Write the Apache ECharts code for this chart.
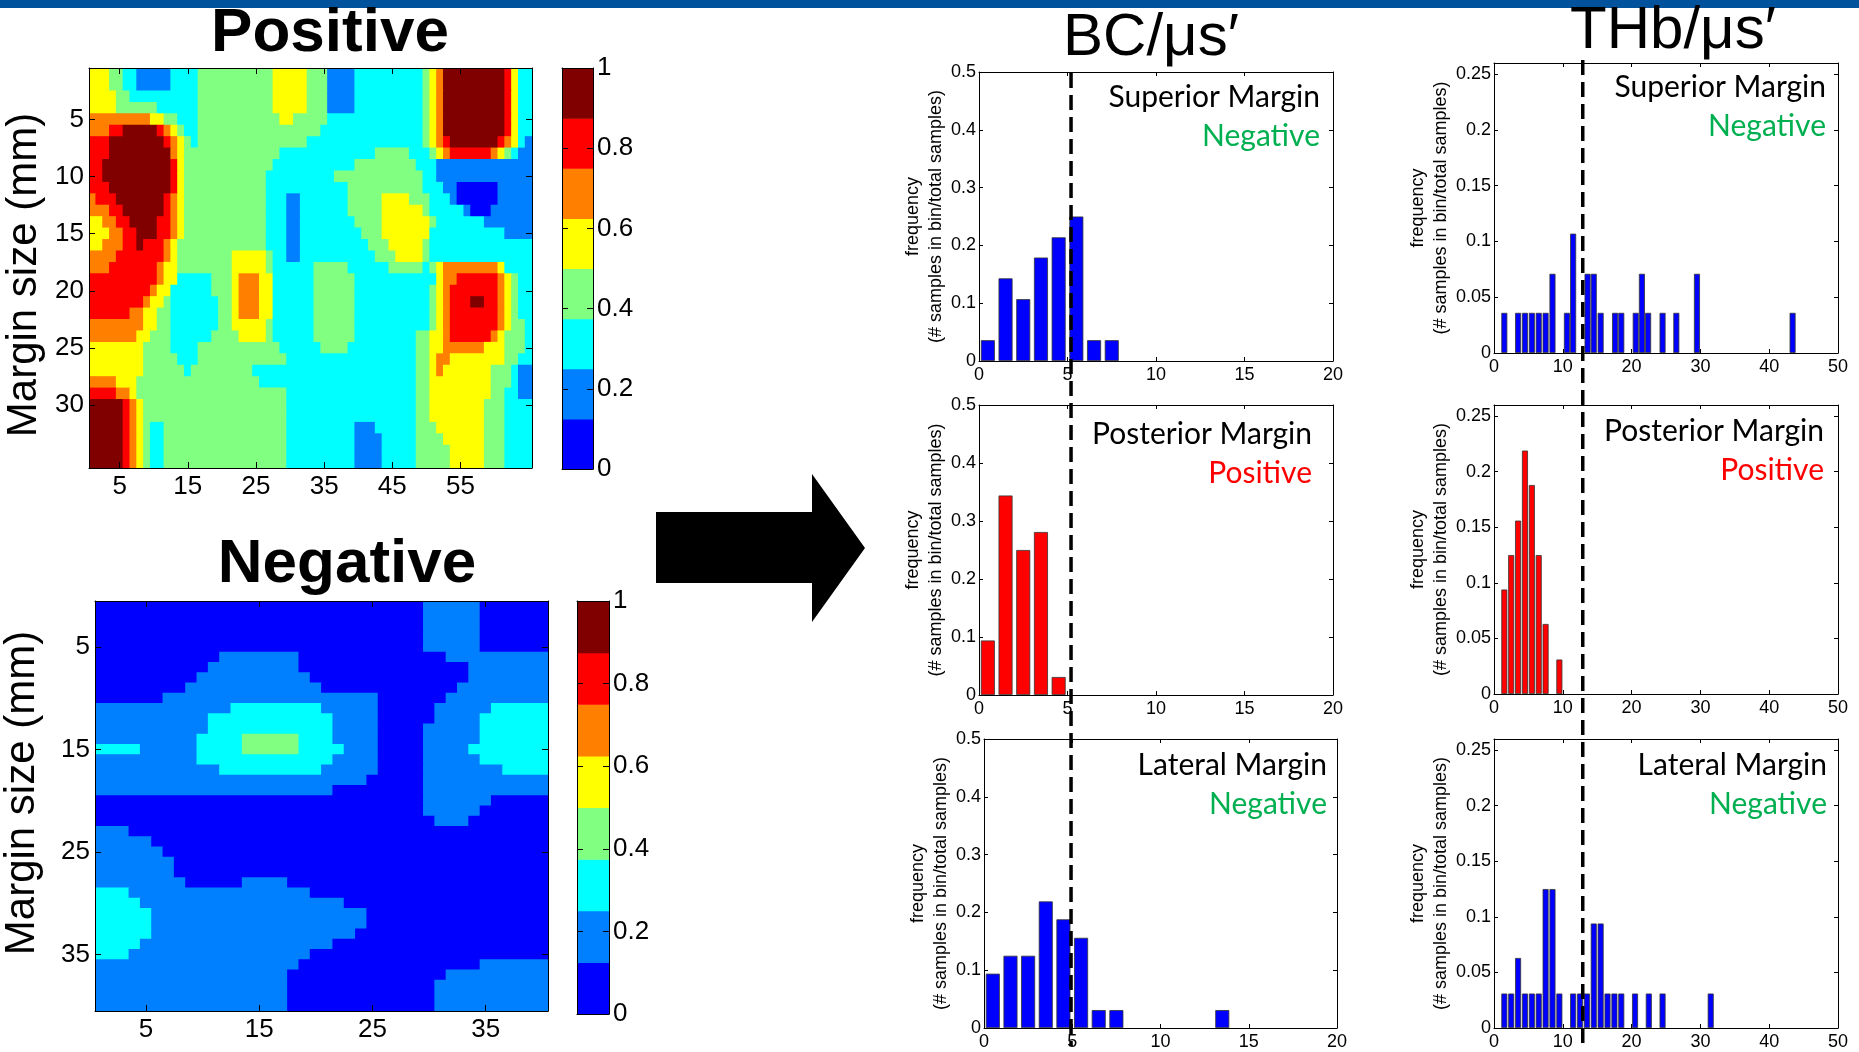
<!DOCTYPE html>
<html lang="en">
<head>
<meta charset="utf-8">
<title>Margin maps and BC / THb histograms</title>
<script src="https://cdn.jsdelivr.net/npm/echarts@6.0.0/dist/echarts.min.js"></script>
<style>
  html, body { margin: 0; padding: 0; background: #fff; overflow: hidden; }
  #chart { width: 1859px; height: 1052px; }
</style>
</head>
<body>
<div id="chart"></div>
<script>
// contour band per cell (0..7 = jet bands of 0.125), one run-length row per line: "level:count"
const posRows = [
  "4:3 3:2 2:2 1:5 2:4 3:11 4:5 3:3 1:4 2:10 3:1 4:1 5:1 7:9 6:1 4:1 2:2",
  "4:3 3:2 2:2 1:5 2:4 3:11 4:5 3:3 1:4 2:10 3:1 4:1 5:1 7:9 6:1 4:1 2:2",
  "4:4 3:2 2:10 3:11 4:5 3:3 1:4 2:10 3:1 4:1 5:1 7:9 6:1 4:1 2:2",
  "4:4 3:6 2:6 3:11 4:5 3:3 1:4 2:10 3:1 4:1 5:1 7:9 6:1 4:1 2:2",
  "5:9 4:2 3:2 2:3 3:12 4:2 3:5 2:14 3:1 4:1 5:1 7:9 6:1 4:1 2:2",
  "5:3 6:2 7:5 6:1 5:1 4:1 3:1 2:2 3:18 2:15 3:1 4:1 5:1 7:9 6:1 4:1 2:2",
  "6:3 7:8 6:1 5:1 4:1 3:1 2:1 3:16 2:17 3:1 4:1 5:1 6:1 7:7 6:1 5:1 4:1 2:1 1:1",
  "6:3 7:9 5:1 4:1 3:14 2:14 3:5 2:3 3:1 4:1 5:1 6:6 5:1 4:1 3:1 2:1 1:2",
  "6:2 7:10 6:1 4:1 3:13 2:12 3:9 2:3 1:14",
  "6:2 7:10 6:1 4:1 3:12 2:10 3:13 2:2 1:14",
  "6:3 7:9 6:1 4:1 3:12 2:12 3:11 2:3 1:2 0:6 1:5",
  "5:1 6:3 7:7 6:1 5:1 4:1 3:12 2:3 1:2 2:7 3:5 4:4 3:3 2:3 1:1 0:6 1:5",
  "5:3 6:2 7:6 6:1 5:1 4:1 3:12 2:3 1:2 2:7 3:5 4:6 3:1 2:5 1:1 0:3 1:6",
  "4:2 5:2 6:2 7:4 6:2 5:1 4:1 3:12 2:3 1:2 2:8 3:4 4:7 3:1 2:7 1:7",
  "4:3 5:2 6:2 7:3 6:2 5:1 4:1 3:12 2:3 1:2 2:9 3:3 4:7 2:11 1:4",
  "4:2 5:3 6:2 7:1 6:3 5:1 4:1 3:13 2:3 1:2 2:10 3:3 4:5 3:1 2:15",
  "5:4 6:7 5:1 4:1 3:8 4:5 3:1 2:2 1:2 2:11 3:3 4:4 3:1 2:15",
  "5:3 6:7 5:1 4:2 3:8 4:5 3:1 2:6 3:5 2:6 3:5 2:1 3:1 4:1 5:8 4:1 2:4",
  "6:10 5:1 4:2 2:5 3:3 4:1 5:3 4:2 2:6 3:6 2:12 4:1 5:2 6:6 5:1 4:1 3:1 2:2",
  "6:9 5:1 4:2 2:6 3:3 4:1 5:3 4:2 2:6 3:6 2:11 3:1 4:1 5:1 6:7 5:1 4:1 3:1 2:2",
  "6:8 5:1 4:2 3:1 2:7 3:2 4:1 5:3 4:2 2:6 3:6 2:11 3:1 4:1 5:1 6:3 7:2 6:2 5:1 4:1 3:1 2:2",
  "6:6 5:2 4:2 3:2 2:7 3:2 4:1 5:3 4:2 2:6 3:6 2:11 3:1 4:1 5:1 6:7 5:1 4:1 3:1 2:2",
  "5:8 4:2 3:2 2:7 3:2 4:5 3:1 2:6 3:6 2:11 3:1 4:1 5:1 6:7 5:1 4:1 3:2 2:1",
  "5:7 4:2 3:3 2:6 3:4 4:4 3:1 2:6 3:6 2:9 3:2 4:2 5:1 6:6 5:1 4:1 3:3 2:1",
  "4:8 3:4 2:4 3:12 2:6 3:4 2:10 3:2 4:2 5:6 4:3 3:3 2:1",
  "4:8 3:5 2:3 3:13 2:19 3:2 4:1 5:2 4:8 3:2 2:2",
  "4:8 3:6 2:1 3:9 2:24 3:2 4:1 5:1 4:7 3:3 2:1 1:2",
  "5:4 4:3 3:18 2:23 3:2 4:9 3:3 2:1 1:2",
  "6:4 5:2 4:1 3:22 2:19 3:2 4:9 3:2 2:2 1:2",
  "7:5 6:1 5:1 4:1 3:21 2:19 3:2 4:8 3:3 2:4",
  "7:5 6:1 5:1 4:1 3:21 2:19 3:2 4:8 3:3 2:4",
  "7:5 6:1 5:1 4:1 3:1 2:2 3:18 2:10 1:3 2:6 3:3 4:7 3:3 2:4",
  "7:5 6:1 5:1 4:1 3:1 2:2 3:18 2:10 1:4 2:5 3:4 4:6 3:3 2:4",
  "7:5 6:1 5:1 4:1 3:1 2:2 3:18 2:10 1:4 2:5 3:5 4:5 3:3 2:4",
  "7:5 6:1 5:1 4:1 3:1 2:2 3:18 2:10 1:4 2:5 3:5 4:5 3:3 2:4"
];
const negRows = [
  "0:29 1:5 0:6", "0:29 1:5 0:6", "0:29 1:5 0:6", "0:29 1:5 0:6", "0:29 1:5 0:6",
  "0:11 1:7 0:13 1:9",
  "0:10 1:8 0:15 1:7",
  "0:9 1:10 0:14 1:7",
  "0:8 1:12 0:12 1:8",
  "0:6 1:19 0:6 1:9",
  "1:12 2:8 1:5 0:5 1:5 2:5",
  "1:10 2:11 1:4 0:5 1:4 2:6",
  "1:10 2:11 1:4 0:4 1:5 2:6",
  "1:9 2:4 3:5 2:3 1:4 0:4 1:5 2:6",
  "2:4 1:5 2:4 3:5 2:4 1:3 0:4 1:4 2:7",
  "1:9 2:12 1:4 0:4 1:5 2:6",
  "1:11 2:9 1:5 0:4 1:7 2:4",
  "1:24 0:5 1:11",
  "1:21 0:8 1:11",
  "0:29 1:6 0:5",
  "0:29 1:5 0:6",
  "0:30 1:3 0:7",
  "1:3 0:37",
  "1:5 0:35",
  "1:6 0:34",
  "1:7 0:33",
  "1:7 0:33",
  "1:8 0:5 1:4 0:23",
  "2:3 1:16 0:21",
  "2:4 1:18 0:18",
  "2:5 1:19 0:16",
  "2:5 1:19 0:16",
  "2:5 1:18 0:17",
  "2:4 1:17 0:19",
  "2:3 1:16 0:21",
  "1:18 0:16 1:6",
  "1:17 0:14 1:9",
  "1:17 0:13 1:10",
  "1:17 0:13 1:10",
  "1:17 0:13 1:10"
];
const posCols = 65;
const negCols = 40;
const posXTicks = [5, 15, 25, 35, 45, 55];
const posYTicks = [5, 10, 15, 20, 25, 30];
const negXTicks = [5, 15, 25, 35];
const negYTicks = [5, 15, 25, 35];

const levelColors = ['#0000ff', '#0080ff', '#00ffff', '#80ff80', '#ffff00', '#ff8000', '#ff0000', '#800000'];
const levelEdges = [0, 0.125, 0.25, 0.375, 0.5, 0.625, 0.75, 0.875, 1];

// histograms: bin centres and frequency (samples in bin / total samples)
const bcSupBins = [0.5, 1.5, 2.5, 3.5, 4.5, 5.5, 6.5, 7.5];
const bcSupFreq = [0.036, 0.143, 0.107, 0.179, 0.214, 0.25, 0.036, 0.036];
const bcPostBins = [0.5, 1.5, 2.5, 3.5, 4.5];
const bcPostFreq = [0.094, 0.344, 0.25, 0.281, 0.031];
const bcLatBins = [0.5, 1.5, 2.5, 3.5, 4.5, 5.5, 6.5, 7.5, 13.5];
const bcLatFreq = [0.094, 0.125, 0.125, 0.219, 0.188, 0.156, 0.031, 0.031, 0.031];

const thbSupBins = [1.5, 3.5, 4.5, 5.5, 6.5, 7.5, 8.5, 10.6, 11.5, 13.6, 14.5, 15.5, 17.6, 18.5, 20.6, 21.5, 22.4, 24.5, 26.5, 29.5, 43.4];
const thbSupFreq = [0.036, 0.036, 0.036, 0.036, 0.036, 0.036, 0.071, 0.036, 0.107, 0.071, 0.071, 0.036, 0.036, 0.036, 0.036, 0.071, 0.036, 0.036, 0.036, 0.071, 0.036];
const thbPostBins = [1.5, 2.5, 3.5, 4.5, 5.5, 6.5, 7.5, 9.5];
const thbPostFreq = [0.094, 0.125, 0.156, 0.219, 0.188, 0.125, 0.063, 0.031];
const thbLatBins = [1.5, 2.5, 3.5, 4.5, 5.5, 6.5, 7.5, 8.5, 9.5, 11.5, 12.5, 13.5, 14.5, 15.5, 16.5, 17.5, 18.5, 20.5, 22.5, 24.5, 31.5];
const thbLatFreq = [0.031, 0.031, 0.063, 0.031, 0.031, 0.031, 0.125, 0.125, 0.031, 0.031, 0.031, 0.031, 0.094, 0.094, 0.031, 0.031, 0.031, 0.031, 0.031, 0.031, 0.031];

// thresholds drawn as dashed lines
const bcCut = 5.2;
const thbCut = 12.9;

const FONT = '"Liberation Sans", Arial, sans-serif';
const TEXT_FONT = 'Lato, "Open Sans", sans-serif';
const GREEN = '#00b050';
const RED = '#ff0000';
const BLUE = '#0000ff';

const grid = [];
const xAxis = [];
const yAxis = [];
const series = [];

// rows of runs -> [firstCol, lastCol, row, level]
function runs(rows, width) {
  const out = [];
  rows.forEach(function (row, r) {
    let c = 0;
    const parts = row.split(' ');
    parts.forEach(function (run, k) {
      const p = run.split(':');
      let n = +p[1];
      if (k === parts.length - 1) n = width - c;
      if (n > 0) out.push([c, c + n - 1, r, +p[0]]);
      c += n;
    });
  });
  return out;
}

function cats(n) {
  const a = [];
  for (let i = 1; i <= n; i++) a.push(String(i));
  return a;
}

function frame() {
  return { show: true, onZero: false, lineStyle: { color: '#000', width: 1 } };
}

function renderRun(params, api) {
  const a = api.coord([api.value(0), api.value(2)]);
  const b = api.coord([api.value(1), api.value(2)]);
  const s = api.size([1, 1]);
  return {
    type: 'rect',
    shape: {
      x: a[0] - s[0] / 2 - 0.4, y: a[1] - s[1] / 2 - 0.4,
      width: b[0] - a[0] + s[0] + 0.8, height: s[1] + 0.8
    },
    style: { fill: levelColors[api.value(3)] }
  };
}

function renderBand(params, api) {
  const lo = api.coord([0, api.value(1)]);
  const hi = api.coord([0, api.value(2)]);
  const w = api.size([1, 0])[0];
  return {
    type: 'rect',
    shape: { x: lo[0] - w / 2, y: hi[1], width: w, height: lo[1] - hi[1] + 0.5 },
    style: { fill: levelColors[api.value(3)] }
  };
}

function addMap(box, rows, width, xTicks, yTicks, nameGap, namePad) {
  const g = grid.length;
  grid.push(Object.assign({ outerBoundsMode: 'none' }, box));
  const ny = rows.length;
  const xShow = (i, v) => xTicks.indexOf(+v) >= 0;
  const yShow = (i, v) => yTicks.indexOf(+v) >= 0;
  const tick = (fn) => ({ show: true, inside: true, alignWithLabel: true, length: 6, interval: fn, lineStyle: { color: '#000' } });
  const xi = xAxis.length;
  xAxis.push({
    gridIndex: g, type: 'category', data: cats(width), position: 'bottom', z: 10,
    axisLine: frame(), axisTick: tick(xShow),
    axisLabel: { interval: xShow, color: '#000', fontSize: 26, fontFamily: FONT, margin: 6 }
  });
  xAxis.push({
    gridIndex: g, type: 'category', data: cats(width), position: 'top', z: 10,
    axisLine: frame(), axisTick: tick(xShow), axisLabel: { show: false }
  });
  const yi = yAxis.length;
  yAxis.push({
    gridIndex: g, type: 'category', data: cats(ny), inverse: true, position: 'left', z: 10,
    axisLine: frame(), axisTick: tick(yShow),
    axisLabel: { interval: yShow, color: '#000', fontSize: 26, fontFamily: FONT, margin: 5 },
    name: 'Margin size (mm)', nameLocation: 'middle', nameRotate: 90, nameGap: nameGap,
    nameTextStyle: { color: '#000', fontSize: 42, fontFamily: FONT, padding: namePad }
  });
  yAxis.push({
    gridIndex: g, type: 'category', data: cats(ny), inverse: true, position: 'right', z: 10,
    axisLine: frame(), axisTick: tick(yShow), axisLabel: { show: false }
  });
  series.push({
    type: 'custom', xAxisIndex: xi, yAxisIndex: yi, clip: true, silent: true,
    encode: { x: [0, 1], y: 2 }, renderItem: renderRun, data: runs(rows, width)
  });
}

function addColorbar(box) {
  const g = grid.length;
  grid.push(Object.assign({ outerBoundsMode: 'none' }, box));
  const xi = xAxis.length;
  ['bottom', 'top'].forEach(function (pos) {
    xAxis.push({
      gridIndex: g, type: 'category', data: ['bar'], position: pos, z: 10,
      axisLine: frame(), axisTick: { show: false }, axisLabel: { show: false }
    });
  });
  const yi = yAxis.length;
  yAxis.push({
    gridIndex: g, type: 'value', min: 0, max: 1, interval: 0.2, position: 'right', z: 10,
    axisLine: frame(), splitLine: { show: false },
    axisTick: { show: true, inside: true, length: 6, lineStyle: { color: '#000' } },
    axisLabel: { color: '#000', fontSize: 26, fontFamily: FONT, margin: 4 }
  });
  yAxis.push({
    gridIndex: g, type: 'value', min: 0, max: 1, interval: 0.2, position: 'left', z: 10,
    axisLine: frame(), splitLine: { show: false },
    axisTick: { show: true, inside: true, length: 6, lineStyle: { color: '#000' } },
    axisLabel: { show: false }
  });
  series.push({
    type: 'custom', xAxisIndex: xi, yAxisIndex: yi, silent: true,
    encode: { x: 0, y: [1, 2] }, renderItem: renderBand,
    data: levelColors.map((c, k) => [0, levelEdges[k], levelEdges[k + 1], k])
  });
}

const axisSpec = {
  bc: { xMax: 20, xStep: 5, yMax: 0.5, yStep: 0.1, barWidth: 14, nameGap: 31 },
  thb: { xMax: 50, xStep: 10, yMax: 0.26, yStep: 0.05, barWidth: 6, nameGap: 40 }
};

const panels = [
  { kind: 'bc', bins: bcSupBins, freq: bcSupFreq, color: BLUE, title: 'Superior Margin', status: 'Negative',
    box: { left: 979, top: 72, width: 354, height: 289 }, inset: 13, base: 36 },
  { kind: 'bc', bins: bcPostBins, freq: bcPostFreq, color: RED, title: 'Posterior Margin', status: 'Positive',
    box: { left: 979, top: 405, width: 354, height: 290 }, inset: 21, base: 40 },
  { kind: 'bc', bins: bcLatBins, freq: bcLatFreq, color: BLUE, title: 'Lateral Margin', status: 'Negative',
    box: { left: 984, top: 739, width: 353, height: 289 }, inset: 10, base: 37 },
  { kind: 'thb', bins: thbSupBins, freq: thbSupFreq, color: BLUE, title: 'Superior Margin', status: 'Negative',
    box: { left: 1494, top: 63, width: 344, height: 290 }, inset: 12, base: 35 },
  { kind: 'thb', bins: thbPostBins, freq: thbPostFreq, color: RED, title: 'Posterior Margin', status: 'Positive',
    box: { left: 1494, top: 405, width: 344, height: 289 }, inset: 14, base: 37 },
  { kind: 'thb', bins: thbLatBins, freq: thbLatFreq, color: BLUE, title: 'Lateral Margin', status: 'Negative',
    box: { left: 1494, top: 739, width: 344, height: 289 }, inset: 11, base: 37 }
];

function addHist(p) {
  const s = axisSpec[p.kind];
  const g = grid.length;
  grid.push(Object.assign({ outerBoundsMode: 'none' }, p.box));
  const tick = { show: true, inside: true, length: 4, lineStyle: { color: '#000' } };
  const label = { color: '#000', fontSize: 18, fontFamily: FONT };
  p.xIndex = xAxis.length;
  xAxis.push({
    gridIndex: g, type: 'value', min: 0, max: s.xMax, interval: s.xStep, position: 'bottom', z: 10,
    axisLine: frame(), axisTick: tick, splitLine: { show: false },
    axisLabel: Object.assign({ margin: 5 }, label)
  });
  xAxis.push({
    gridIndex: g, type: 'value', min: 0, max: s.xMax, interval: s.xStep, position: 'top', z: 10,
    axisLine: frame(), axisTick: tick, splitLine: { show: false }, axisLabel: { show: false }
  });
  const yi = yAxis.length;
  yAxis.push({
    gridIndex: g, type: 'value', min: 0, max: s.yMax, interval: s.yStep, position: 'left', z: 10,
    axisLine: frame(), axisTick: tick, splitLine: { show: false },
    axisLabel: Object.assign({ margin: 3, showMaxLabel: p.kind === 'bc' }, label),
    name: 'frequency\n(# samples in bin/total samples)', nameLocation: 'middle', nameRotate: 90,
    nameGap: s.nameGap,
    nameTextStyle: { color: '#000', fontSize: 18, lineHeight: 23, fontFamily: FONT }
  });
  yAxis.push({
    gridIndex: g, type: 'value', min: 0, max: s.yMax, interval: s.yStep, position: 'right', z: 10,
    axisLine: frame(), axisTick: tick, splitLine: { show: false }, axisLabel: { show: false }
  });
  series.push({
    type: 'bar', xAxisIndex: p.xIndex, yAxisIndex: yi, barWidth: s.barWidth,
    itemStyle: { color: p.color, borderColor: '#333', borderWidth: 0.8 },
    data: p.bins.map((b, i) => [b, p.freq[i]])
  });
}

addMap({ left: 89, top: 68, width: 443, height: 400 }, posRows, posCols, posXTicks, posYTicks, 44, [0, 14, 0, 0]);
addColorbar({ left: 562, top: 68, width: 31, height: 401 });
addMap({ left: 95, top: 601, width: 453, height: 410 }, negRows, negCols, negXTicks, negYTicks, 52, [0, 0, 0, 26]);
addColorbar({ left: 577, top: 601, width: 32, height: 413 });
panels.forEach(addHist);

const chart = echarts.init(document.getElementById('chart'));
chart.setOption({
  animation: false,
  backgroundColor: '#ffffff',
  grid: grid,
  xAxis: xAxis,
  yAxis: yAxis,
  series: series
});

function label(text, x, y, size, color, extra) {
  return {
    type: 'text', z: 100, silent: true,
    style: Object.assign({
      text: text, x: x, y: y, fill: color, fontSize: size, fontFamily: FONT,
      align: 'center', verticalAlign: 'middle'
    }, extra || {})
  };
}

const graphics = [
  { type: 'rect', z: 100, shape: { x: 0, y: 0, width: 1859, height: 8 }, style: { fill: '#00529c' } },
  {
    type: 'polygon', z: 100,
    shape: { points: [[656, 512], [812, 512], [812, 474], [865, 548], [812, 622], [812, 583], [656, 583]] },
    style: { fill: '#000' }
  },
  label('Positive', 330, 34, 62, '#000', { fontWeight: 'bold' }),
  label('Negative', 347, 565, 62, '#000', { fontWeight: 'bold' }),
  label('BC/\u03bcs\u2032', 1151, 38, 60, '#000'),
  label('THb/\u03bcs\u2032', 1673, 31, 60, '#000')
];

panels.forEach(function (p) {
  const right = p.box.left + p.box.width - p.inset;
  const y1 = p.box.top + p.base - 11;
  const col = p.status === 'Positive' ? RED : GREEN;
  graphics.push(label(p.title, right, y1, 30, '#000', { align: 'right', fontFamily: TEXT_FONT }));
  graphics.push(label(p.status, right, y1 + 39, 30, col, { align: 'right', fontFamily: TEXT_FONT }));
});

const xBC = chart.convertToPixel({ xAxisIndex: panels[0].xIndex }, bcCut);
const xTHb = chart.convertToPixel({ xAxisIndex: panels[3].xIndex }, thbCut);
[[xBC, 73], [xTHb, 60]].forEach(function (d) {
  graphics.push({
    type: 'line', z: 110, silent: true,
    shape: { x1: d[0], y1: d[1], x2: d[0], y2: 1046 },
    style: { stroke: '#000', lineWidth: 3.5, lineDash: [15, 7] }
  });
});

chart.setOption({ graphic: graphics });
</script>
</body>
</html>
